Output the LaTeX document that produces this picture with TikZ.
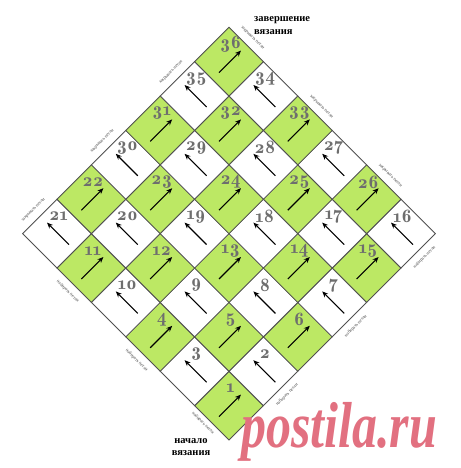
\documentclass[tikz,border=0pt]{standalone}
\usepackage{fontspec}
\setmainfont{Liberation Serif}
\newfontfamily\numfont{lmromandemi10-regular}[Extension=.otf, Numbers=OldStyle]
\usetikzlibrary{arrows.meta,calc}
\definecolor{lime}{RGB}{188,232,100}
\definecolor{gridc}{RGB}{80,80,80}
\definecolor{numc}{RGB}{110,110,110}
\definecolor{wm}{RGB}{226,112,128}
\definecolor{sidec}{RGB}{70,70,70}
\begin{document}
\begin{tikzpicture}[x=1pt,y=-1pt,
  cellbox/.style={draw=gridc, line width=0.8pt, rotate=45, minimum size=48.65pt, inner sep=0pt, outer sep=0pt},
  greencell/.style={cellbox, fill=lime},
  whitecell/.style={cellbox, fill=white},
  numtext/.style={text=numc, font=\numfont\fontsize{19}{19}\selectfont, inner sep=0pt},
  arr/.style={line width=1.1pt, -{Stealth[length=6pt,width=5pt]}},
  sidelabel/.style={text=sidec, font=\fontsize{4.5}{5}\selectfont, inner sep=0pt},
  caption/.style={font=\bfseries\fontsize{10.5}{12.5}\selectfont, inner sep=0pt},
]
\useasboundingbox (0,0) rectangle (460,468);
\def\dd{34.4}
\foreach \a/\b/\n in {0/0/1, 1/0/2, 0/1/3, 0/2/4, 1/1/5, 2/0/6,
  3/0/7, 2/1/8, 1/2/9, 0/3/10, 0/4/11, 1/3/12, 2/2/13, 3/1/14, 4/0/15,
  5/0/16, 4/1/17, 3/2/18, 2/3/19, 1/4/20, 0/5/21,
  1/5/22, 2/4/23, 3/3/24, 4/2/25, 5/1/26,
  5/2/27, 4/3/28, 3/4/29, 2/5/30, 3/5/31, 4/4/32, 5/3/33,
  5/4/34, 4/5/35, 5/5/36} {
  \pgfmathtruncatemacro\dg{mod(\a+\b,2)}
  \ifnum\dg=0
    \node[greencell] (c\n) at ({229+\dd*(\a-\b)},{440-\dd*(\a+\b+1)}) {};
    \draw[arr] ($(c\n)+(-10,11)$) -- ($(c\n)+(12,-11)$);
  \else
    \node[whitecell] (c\n) at ({229+\dd*(\a-\b)},{440-\dd*(\a+\b+1)}) {};
    \draw[arr] ($(c\n)+(12,11)$) -- ($(c\n)+(-10,-11)$);
  \fi
  \node[numtext] (n\n) at ($(c\n)+(1.5,-17)$) {\n};
}
% side labels: cast on (bottom edges)
\node[sidelabel, rotate=-45] (l1) at (203,423) {набирать петли};
\node[sidelabel, rotate=-45] (l2) at (136.7,360.3) {набирать петли};
\node[sidelabel, rotate=-45] (l3) at (67.9,291.5) {набирать петли};
\node[sidelabel, rotate=45] (l4) at (286.9,394.7) {набирать петли};
\node[sidelabel, rotate=45] (l5) at (355.7,325.9) {набирать петли};
\node[sidelabel, rotate=45] (l6) at (424.5,257.1) {набирать петли};
% side labels: bind off (top edges)
\node[sidelabel, rotate=45] (l7) at (33.5,210.1) {закрывать петли};
\node[sidelabel, rotate=45] (l8) at (102.3,141.3) {закрывать петли};
\node[sidelabel, rotate=45] (l9) at (171.1,72.5) {закрывать петли};
\node[sidelabel, rotate=-45] (l10) at (390.1,175.7) {закрывать петли};
\node[sidelabel, rotate=-45] (l11) at (321.3,106.9) {закрывать петли};
\node[sidelabel, rotate=-45] (l12) at (252.5,38.1) {закрывать петли};
% captions
\node[caption, anchor=north, align=center] (start) at (191,438) {начало\\вязания};
\node[caption, anchor=north west, align=left] (fin) at (254,16.5) {завершение\\вязания};
% watermark
\node[text=wm, inner sep=0pt, anchor=base west] (wmark) at (241,447)
  {\scalebox{1}[1.3]{\fontsize{50}{50}\selectfont\bfseries\itshape postila.ru}};
\end{tikzpicture}
\end{document}
